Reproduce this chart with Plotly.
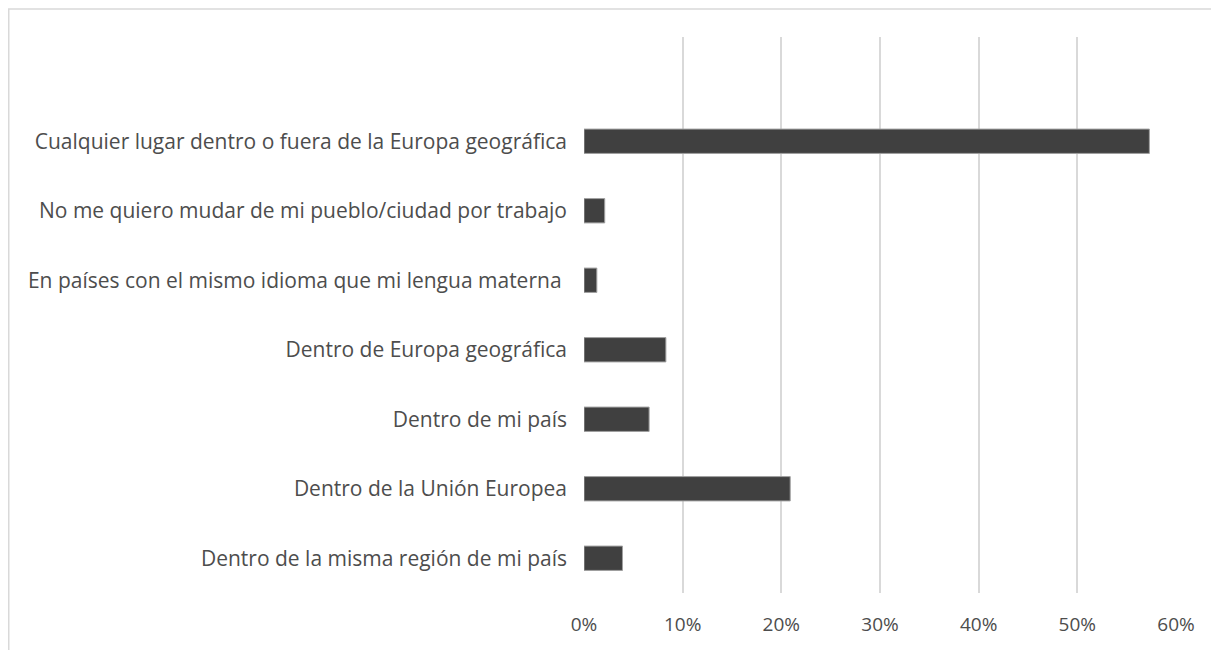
import plotly.graph_objects as go

# categories listed bottom to top, as plotly draws them
categorias = [
    'Dentro de la misma región de mi país',
    'Dentro de la Unión Europea',
    'Dentro de mi país',
    'Dentro de Europa geográfica',
    'En países con el mismo idioma que mi lengua materna ',
    'No me quiero mudar de mi pueblo/ciudad por trabajo',
    'Cualquier lugar dentro o fuera de la Europa geográfica',
]
porcentajes = [0.039, 0.209, 0.066, 0.083, 0.013, 0.021, 0.573]
ticks_x = [0, 0.1, 0.2, 0.3, 0.4, 0.5, 0.6]

# the page adds an 8px body margin, so the figure itself is a bit smaller
W, H = 1211, 642
M = dict(l=576, r=43, t=29, b=57)

fig = go.Figure(go.Bar(
    x=porcentajes,
    y=categorias,
    orientation='h',
    marker=dict(color='#404040', line=dict(color='#a0a0a0', width=1)),
    hoverinfo='x+y',
))

fig.update_layout(
    width=W, height=H,
    margin=M,
    paper_bgcolor='white',
    plot_bgcolor='white',
    bargap=0.65,
    showlegend=False,
    font=dict(family='Open Sans', size=20, color='#595959'),
)

fig.update_xaxes(
    range=[0, 0.6],
    tickvals=ticks_x,
    tickformat='.0%',
    showgrid=True,
    gridcolor='#d9d9d9',
    gridwidth=1.5,
    zeroline=False,
    showline=False,
    ticks='',
    ticklabelstandoff=18,
    tickfont=dict(size=19, color='#4d4d4d'),
)

fig.update_yaxes(
    type='category',
    range=[-0.5, 7.5],
    showgrid=False,
    zeroline=False,
    showline=False,
    ticks='',
    ticklabelstandoff=16,
    tickfont=dict(size=21, color='#4d4d4d'),
)

# light frame round the chart, like the exported chart area
pw = W - M['l'] - M['r']
ph = H - M['t'] - M['b']
fig.add_shape(
    type='rect', xref='paper', yref='paper',
    x0=(0.75 - M['l']) / pw, x1=(W + 5 - M['l']) / pw,
    y0=-(M['b'] + 5) / ph, y1=(ph + M['t'] - 1) / ph,
    line=dict(color='#d9d9d9', width=1.5),
    fillcolor='rgba(0,0,0,0)',
    layer='below',
)

fig.write_html('out.html')
